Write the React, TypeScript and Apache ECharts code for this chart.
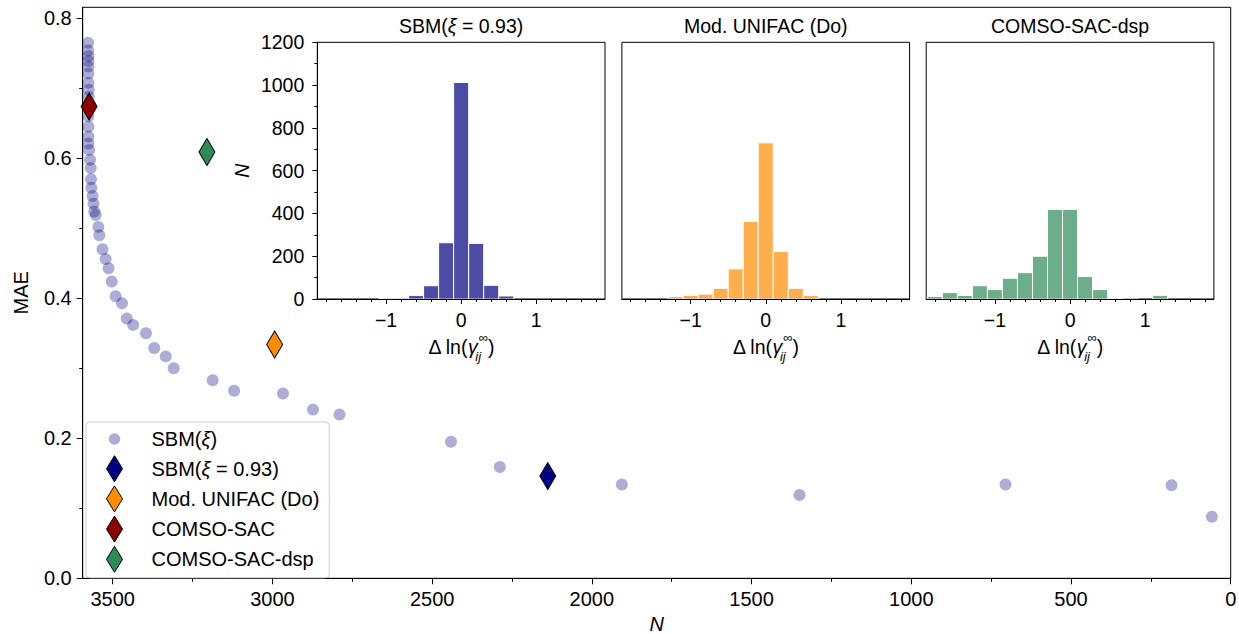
import React, { useEffect, useRef } from 'react';
import * as echarts from 'echarts';

const FONT = "'Liberation Sans', Arial, Helvetica, sans-serif";

// ---------- main plot data ----------
const sbmN = [
  3577, 3577, 3576, 3576, 3576, 3576, 3576, 3575, 3575, 3576, 3576, 3576, 3576, 3574, 3571, 3569,
  3568, 3567, 3563, 3560, 3558, 3553, 3545, 3542, 3532, 3522, 3513, 3503, 3491, 3471, 3456, 3436,
  3396, 3370, 3334, 3309, 3187, 3120, 2967, 2873, 2790, 2441, 2288, 1906, 1350, 705, 185, 59,
];
const sbmMAE = [
  0.765, 0.754, 0.746, 0.739, 0.731, 0.721, 0.708, 0.698, 0.688, 0.66, 0.645, 0.631, 0.621, 0.612, 0.598, 0.586,
  0.57, 0.558, 0.546, 0.535, 0.524, 0.519, 0.502, 0.49, 0.47, 0.456, 0.443, 0.424, 0.403, 0.393, 0.371, 0.362,
  0.35, 0.329, 0.317, 0.3, 0.283, 0.268, 0.264, 0.241, 0.234, 0.195, 0.159, 0.134, 0.119, 0.134, 0.133, 0.088,
];
const refModels = ['SBM(ξ = 0.93)', 'Mod. UNIFAC (Do)', 'COMSO-SAC', 'COMSO-SAC-dsp'];
const refN = [2138, 2993, 3574, 3205];
const refMAE = [0.146, 0.334, 0.674, 0.609];
const refColors = ['#000080', '#ff8c00', '#8b0000', '#2e8b57'];
const sbmName = 'SBM(ξ)';

const mainXTicks = [0, 500, 1000, 1500, 2000, 2500, 3000, 3500];
const mainXMinor = [250, 750, 1250, 1750, 2250, 2750, 3250];
const mainYTicks = [0, 0.2, 0.4, 0.6, 0.8];
const mainYMinor = [0.1, 0.3, 0.5, 0.7];

// ---------- inset histogram data ----------
const histTitles = ['SBM({i|ξ} = 0.93)', 'Mod. UNIFAC (Do)', 'COMSO-SAC-dsp'];
const binCenters = [-1.8, -1.6, -1.4, -1.2, -1.0, -0.8, -0.6, -0.4, -0.2, 0, 0.2, 0.4, 0.6, 0.8, 1.0, 1.2, 1.4, 1.6, 1.8];
const BIN_WIDTH = 0.2;
const countsSBM = [0, 0, 0, 0, 1, 4, 16, 62, 263, 1012, 260, 64, 14, 0, 0, 0, 0, 0, 0];
const countsUNIFAC = [0, 0, 0, 11, 17, 23, 50, 141, 362, 730, 222, 50, 16, 0, 0, 0, 0, 0, 0];
const countsDSP = [12, 30, 17, 62, 44, 97, 123, 200, 419, 419, 105, 44, 3, 6, 0, 17, 0, 0, 0];
const histColors = ['rgba(0,0,128,0.7)', 'rgba(255,140,0,0.7)', 'rgba(46,139,87,0.7)'];
const histXTicks = [-1, 0, 1];
const histXMinor = [-1.8, -1.6, -1.4, -1.2, -0.8, -0.6, -0.4, -0.2, 0.2, 0.4, 0.6, 0.8, 1.2, 1.4, 1.6, 1.8];
const histYTicks = [0, 200, 400, 600, 800, 1000, 1200];
const histYMinor = [100, 300, 500, 700, 900, 1100];

// ---------- layout ----------
const MAIN = { left: 82.7, top: 7.3, right: 1230.7, bottom: 578.3 };
const INSET_LEFTS = [317.3, 621.9, 926.2];
const INSET_TOP = 42.3;
const INSET_W = 287.7;
const INSET_H = 256.7;

const axisColor = '#000';

function App() {
  const ref = useRef<HTMLDivElement>(null);

  useEffect(() => {
    document.body.style.margin = '0';
    if (!ref.current) return;
    const chart = echarts.init(ref.current, undefined, { renderer: 'svg' });

    const grids: any[] = [
      {
        left: MAIN.left, top: MAIN.top, width: MAIN.right - MAIN.left, height: MAIN.bottom - MAIN.top,
        show: true, borderColor: '#000', borderWidth: 1, backgroundColor: 'transparent', outerBoundsMode: 'none',
      },
      ...INSET_LEFTS.map((l) => ({
        left: l, top: INSET_TOP, width: INSET_W, height: INSET_H,
        show: true, borderColor: '#000', borderWidth: 1, backgroundColor: '#fff', outerBoundsMode: 'none',
      })),
    ];

    const labelStyle = (size: number, margin: number) => ({
      color: '#000', fontSize: size, fontFamily: FONT, margin, lineHeight: size,
    });
    const plain = (v: number) => String(v);

    const xAxes: any[] = [
      {
        gridIndex: 0, type: 'value', inverse: true, min: 0, max: 3594, position: 'bottom',
        axisLine: { show: true, onZero: false, lineStyle: { color: axisColor, width: 1 } },
        axisTick: { show: true, customValues: mainXTicks, length: 6, lineStyle: { color: axisColor } },
        axisLabel: { ...labelStyle(20, 11), customValues: mainXTicks, formatter: plain },
        splitLine: { show: false },
        name: 'N', nameLocation: 'middle', nameGap: 34.7,
        nameTextStyle: { fontStyle: 'italic', fontSize: 20, color: '#000', fontFamily: FONT, lineHeight: 20 },
      },
      {
        gridIndex: 0, type: 'value', inverse: true, min: 0, max: 3594, position: 'bottom',
        axisLine: { show: false, onZero: false },
        axisTick: { show: true, customValues: mainXMinor, length: 3.5, lineStyle: { color: axisColor } },
        axisLabel: { show: false }, splitLine: { show: false },
      },
    ];
    const yAxes: any[] = [
      {
        gridIndex: 0, type: 'value', min: 0, max: 0.8157, position: 'left',
        axisLine: { show: true, onZero: false, lineStyle: { color: axisColor, width: 1 } },
        axisTick: { show: true, customValues: mainYTicks, length: 6, lineStyle: { color: axisColor } },
        axisLabel: { ...labelStyle(20, 11), customValues: mainYTicks, formatter: (v: number) => v.toFixed(1) },
        splitLine: { show: false },
        name: 'MAE', nameLocation: 'middle', nameGap: 49.7, nameRotate: 90,
        nameTextStyle: { fontSize: 20, color: '#000', fontFamily: FONT, lineHeight: 24 },
      },
      {
        gridIndex: 0, type: 'value', min: 0, max: 0.8157, position: 'left',
        axisLine: { show: false, onZero: false },
        axisTick: { show: true, customValues: mainYMinor, length: 3.5, lineStyle: { color: axisColor } },
        axisLabel: { show: false }, splitLine: { show: false },
      },
    ];

    const histName = '{a|Δ ln(}{g|γ}{s|ij}{u|∞}{a|)}';
    const histNameRich = {
      a: { fontSize: 19.5, fontFamily: FONT, color: '#000', lineHeight: 32 },
      g: { fontSize: 19.5, fontFamily: FONT, color: '#000', fontStyle: 'italic', lineHeight: 32 },
      s: { fontSize: 13, fontFamily: FONT, color: '#000', fontStyle: 'italic', lineHeight: 13, verticalAlign: 'bottom', width: 1 },
      u: { fontSize: 13, fontFamily: FONT, color: '#000', lineHeight: 18, verticalAlign: 'top' },
    };

    INSET_LEFTS.forEach((_, k) => {
      const g = k + 1;
      xAxes.push({
        gridIndex: g, type: 'value', min: -1.915, max: 1.915, position: 'bottom', z: 10,
        axisLine: { show: true, onZero: false, lineStyle: { color: axisColor, width: 1 } },
        axisTick: { show: true, customValues: histXTicks, length: 5, lineStyle: { color: axisColor } },
        axisLabel: {
          ...labelStyle(19.5, 11.25), customValues: histXTicks,
          formatter: (v: number) => (v < 0 ? '\u2212' + Math.abs(v) : String(v)),
        },
        splitLine: { show: false },
        name: histName, nameLocation: 'middle', nameGap: 32,
        nameTextStyle: { rich: histNameRich, fontSize: 19.5, fontFamily: FONT, color: '#000' },
      });
      xAxes.push({
        gridIndex: g, type: 'value', min: -1.915, max: 1.915, position: 'bottom', z: 10,
        axisLine: { show: false, onZero: false },
        axisTick: { show: true, customValues: histXMinor, length: 3, lineStyle: { color: axisColor } },
        axisLabel: { show: false }, splitLine: { show: false },
      });
    });
    // inset 1 y axes
    yAxes.push({
      gridIndex: 1, type: 'value', min: 0, max: 1200, position: 'left', z: 10,
      axisLine: { show: true, onZero: false, lineStyle: { color: axisColor, width: 1 } },
      axisTick: { show: true, customValues: histYTicks, length: 5, lineStyle: { color: axisColor } },
      axisLabel: { ...labelStyle(19.5, 13), customValues: histYTicks, formatter: plain },
      splitLine: { show: false },
      name: 'N', nameLocation: 'middle', nameGap: 63.6, nameRotate: 90,
      nameTextStyle: { fontStyle: 'italic', fontSize: 19.5, color: '#000', fontFamily: FONT, lineHeight: 24 },
    });
    yAxes.push({
      gridIndex: 1, type: 'value', min: 0, max: 1200, position: 'left',
      axisLine: { show: false, onZero: false },
      axisTick: { show: true, customValues: histYMinor, length: 3, lineStyle: { color: axisColor } },
      axisLabel: { show: false }, splitLine: { show: false },
    });
    yAxes.push({ gridIndex: 2, type: 'value', min: 0, max: 1200, show: false });
    yAxes.push({ gridIndex: 3, type: 'value', min: 0, max: 1200, show: false });

    const histSeries = (name: string, counts: number[], color: string, xIdx: number, yIdx: number) => ({
      type: 'custom', name, xAxisIndex: xIdx, yAxisIndex: yIdx, clip: true, z: 2,
      data: binCenters.map((c, i) => [c, counts[i]]),
      renderItem: (_p: any, api: any) => {
        const c = api.value(0);
        const v = api.value(1);
        if (!(v > 0)) return null;
        const tl = api.coord([c - BIN_WIDTH / 2, v]);
        const br = api.coord([c + BIN_WIDTH / 2, 0]);
        return {
          type: 'rect',
          shape: { x: tl[0], y: tl[1], width: br[0] - tl[0], height: br[1] - tl[1] },
          style: { fill: color, stroke: '#fff', lineWidth: 1 },
        };
      },
    });

    const series: any[] = [
      {
        type: 'scatter', name: sbmName, xAxisIndex: 0, yAxisIndex: 0, z: 2,
        symbol: 'circle', symbolSize: 12,
        itemStyle: { color: 'rgba(0,0,128,0.4)', borderWidth: 0 },
        data: sbmN.map((n, i) => [n, sbmMAE[i]]),
      },
      ...refModels.map((m, i) => ({
        type: 'scatter', name: m, xAxisIndex: 0, yAxisIndex: 0, z: 3,
        symbol: 'diamond', symbolSize: [16, 27],
        itemStyle: { color: refColors[i], borderColor: '#000', borderWidth: 1, opacity: 1 },
        data: [[refN[i], refMAE[i]]],
      })),
      histSeries('hist-sbm', countsSBM, histColors[0], 2, 2),
      histSeries('hist-unifac', countsUNIFAC, histColors[1], 4, 4),
      histSeries('hist-dsp', countsDSP, histColors[2], 6, 5),
    ];

    const circleIcon = 'path://M0,0M16,26M2.2,13A5.8,5.8,0,1,0,13.8,13A5.8,5.8,0,1,0,2.2,13Z';

    const option: any = {
      animation: false,
      backgroundColor: '#fff',
      textStyle: { fontFamily: FONT },
      grid: grids,
      xAxis: xAxes,
      yAxis: yAxes,
      series,
      legend: {
        orient: 'vertical', left: 86, top: 422, padding: [4, 10, 5, 20], itemGap: 3.2,
        itemWidth: 16, itemHeight: 26, selectedMode: false,
        backgroundColor: 'rgba(255,255,255,0.8)', borderColor: '#cccccc', borderWidth: 1, borderRadius: 4,
        textStyle: {
          fontSize: 20, color: '#000', fontFamily: FONT, padding: [0, 0, 0, 24],
          rich: { i: { fontStyle: 'italic', fontSize: 20, fontFamily: FONT, color: '#000' } },
        },
        formatter: (name: string) => name.replace('ξ', '{i|ξ}'),
        data: [
          { name: sbmName, icon: circleIcon, itemStyle: { color: 'rgba(0,0,128,0.4)', borderWidth: 0 } },
          ...refModels.map((m, i) => ({
            name: m, icon: 'diamond',
            itemStyle: { color: refColors[i], borderColor: '#000', borderWidth: 1 },
          })),
        ],
      },
      graphic: histTitles.map((t, k) => ({
        type: 'text',
        x: INSET_LEFTS[k] + INSET_W / 2,
        y: 26,
        z: 20,
        style: {
          text: t, fontSize: 19.5, fontFamily: FONT, fill: '#000', align: 'center', verticalAlign: 'middle',
          rich: { i: { fontStyle: 'italic', fontSize: 19.5, fontFamily: FONT, fill: '#000' } },
        },
      })),
    };

    chart.setOption(option);
    return () => chart.dispose();
  }, []);

  return (
    <div
      ref={ref}
      style={{ position: 'absolute', left: 0, top: 0, width: 1239, height: 634 }}
    />
  );
}

export default App;
